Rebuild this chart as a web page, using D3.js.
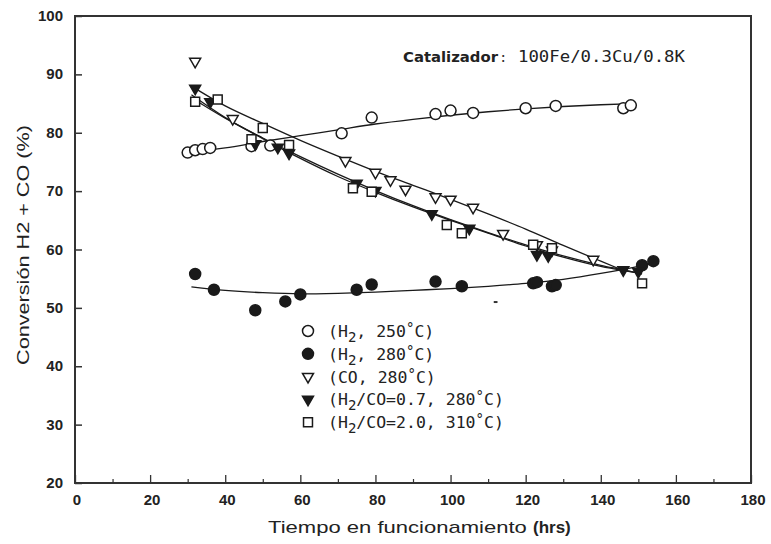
<!DOCTYPE html>
<html><head><meta charset="utf-8">
<script src="https://cdn.jsdelivr.net/npm/d3@7"></script>
<style>html,body{margin:0;padding:0;background:#fff;}svg{display:block;}</style>
</head><body>
<svg id="chart" width="771" height="544"></svg>
<script>
// ---- data ----
const xTicks = [0,20,40,60,80,100,120,140,160,180];
const yTicks = [20,30,40,50,60,70,80,90,100];

// measured points: [hours, conversion %]
const h2_250 = [[30,76.6],[32,77.0],[34,77.2],[36,77.4],[47,77.7],[52,77.8],[71,79.9],[79,82.6],[96,83.2],[100,83.8],[106,83.4],[120,84.2],[128,84.6],[146,84.2],[148,84.7]];
const h2_280 = [[32,55.8],[37,53.1],[48,49.6],[56,51.1],[60,52.3],[75,53.1],[79,54.0],[96,54.5],[103,53.7],[122,54.2],[123,54.4],[127,53.7],[128,53.9],[151,57.3],[154,58.0]];
const co_280 = [[32,92.2],[42,82.4],[72,75.2],[80,73.2],[84,71.9],[88,70.3],[96,69.0],[100,68.6],[106,67.2],[114,62.7],[123,60.8],[127,59.9],[138,58.3]];
const h2co07 = [[32,87.6],[36,85.3],[48,78.1],[54,77.5],[57,76.5],[75,71.3],[80,70.1],[95,66.1],[105,63.6],[123,59.1],[126,58.9],[146,56.5],[150,56.2]];
const h2co20 = [[32,85.3],[38,85.7],[47,78.9],[50,80.8],[57,77.9],[74,70.5],[79,69.9],[99,64.2],[103,62.8],[122,60.8],[127,60.2],[151,54.2]];

// fitted trend curves
const fit_h2_250 = [[29,76.5],[40,77.4],[50,78.5],[60,79.5],[70,80.5],[80,81.5],[90,82.3],[100,83.0],[110,83.6],[120,84.1],[130,84.5],[140,84.8],[149,85.0]];
const fit_h2_280 = [[31,53.6],[40,53.0],[50,52.6],[60,52.4],[70,52.5],[80,52.7],[90,53.0],[100,53.3],[110,53.7],[120,54.2],[130,54.9],[140,55.9],[150,57.1],[155,57.8]];
const fit_co_280 = [[31,88.0],[40,84.6],[50,81.6],[60,78.7],[70,76.0],[80,73.4],[90,71.0],[100,68.6],[110,66.1],[120,63.5],[130,60.7],[140,58.0],[146,56.4]];
const fit_h2co07 = [[31,86.5],[40,82.6],[50,79.0],[60,75.6],[70,72.5],[80,69.8],[90,67.3],[100,65.0],[110,62.8],[120,60.6],[130,58.7],[140,57.1],[146,56.4],[151,55.9]];
const fit_h2co20 = [[31,86.0],[40,82.5],[50,79.1],[60,75.9],[70,72.9],[80,70.1],[90,67.5],[100,65.1],[110,62.9],[120,60.8],[130,58.9],[140,57.3],[146,56.5],[151,55.8]];

const legendLabels = [
  [["(H",0],["2",1],[", 250",0],["°",-1],["C)",0]],
  [["(H",0],["2",1],[", 280",0],["°",-1],["C)",0]],
  [["(CO, 280",0],["°",-1],["C)",0]],
  [["(H",0],["2",1],["/CO=0.7, 280",0],["°",-1],["C)",0]],
  [["(H",0],["2",1],["/CO=2.0, 310",0],["°",-1],["C)",0]]
];

// ---- drawing ----
const svg = d3.select("#chart");
const x = d3.scaleLinear().domain([0,180]).range([75,751]);
const y = d3.scaleLinear().domain([20,100]).range([483,16]);
const ink = "#1a1a1a";

// fitted lines
const line = d3.line().x(d=>x(d[0])).y(d=>y(d[1])).curve(d3.curveMonotoneX);
[fit_h2_250, fit_h2_280, fit_co_280, fit_h2co07, fit_h2co20].forEach(f=>{
  svg.append("path").attr("d", line(f)).attr("fill","none").attr("stroke",ink).attr("stroke-width",1.3);
});

// marker definitions
const styles = [
  {sym:d3.symbolCircle, size:95, fill:"#fff", rot:0},
  {sym:d3.symbolCircle, size:95, fill:ink, rot:0},
  {sym:d3.symbolTriangle, size:52, fill:"#fff", rot:180},
  {sym:d3.symbolTriangle, size:52, fill:ink, rot:180},
  {sym:d3.symbolSquare, size:80, fill:"#fff", rot:0}
];
const series = [h2_250, h2_280, co_280, h2co07, h2co20];
function marker(g, st, cx, cy){
  g.append("path")
    .attr("d", d3.symbol().type(st.sym).size(st.size)())
    .attr("transform", `translate(${cx},${cy}) rotate(${st.rot})`)
    .attr("fill", st.fill).attr("stroke", ink).attr("stroke-width",1.5);
}
series.forEach((s,i)=>{
  const g = svg.append("g");
  s.forEach(d=>marker(g, styles[i], x(d[0]), y(d[1])));
});

// frame
svg.append("rect").attr("x",x(0)).attr("y",y(100)).attr("width",x(180)-x(0)).attr("height",y(20)-y(100))
  .attr("fill","none").attr("stroke","#333").attr("stroke-width",2);

// y axis ticks (inward)
const yAxis = d3.axisRight(y).tickValues(yTicks).tickSize(7).tickFormat("");
const gy = svg.append("g").attr("transform",`translate(${x(0)},0)`).call(yAxis);
gy.select(".domain").remove();
gy.selectAll("line").attr("stroke","#333").attr("stroke-width",1.5);
svg.append("g").selectAll("text").data(yTicks).join("text")
  .attr("x",63).attr("y",d=>y(d)+5).attr("text-anchor","end")
  .attr("font-family","Liberation Sans, Arial, sans-serif").attr("font-weight","bold")
  .attr("font-size",15).attr("fill","#222").text(d=>d);

// x axis ticks (inward): major every 20, minor every 10
const xMinor = d3.range(10,180,20);
const gx = svg.append("g").attr("transform",`translate(0,${y(20)})`)
  .call(d3.axisTop(x).tickValues(xTicks).tickSize(8).tickFormat(""));
gx.select(".domain").remove();
gx.selectAll("line").attr("stroke","#333").attr("stroke-width",1.3);
const gx2 = svg.append("g").attr("transform",`translate(0,${y(20)})`)
  .call(d3.axisTop(x).tickValues(xMinor).tickSize(4).tickFormat(""));
gx2.select(".domain").remove();
gx2.selectAll("line").attr("stroke","#333").attr("stroke-width",1.2);
svg.append("g").selectAll("text").data(xTicks).join("text")
  .attr("x",d=>x(d)+2).attr("y",505).attr("text-anchor","middle")
  .attr("font-family","Liberation Sans, Arial, sans-serif").attr("font-weight","bold")
  .attr("font-size",15).attr("fill","#222").text(d=>d);

// axis titles
svg.append("text").attr("transform","translate(29,245) rotate(-90)").attr("text-anchor","middle")
  .attr("font-family","Liberation Sans, Arial, sans-serif").attr("font-size",16.5).attr("fill","#222")
  .attr("textLength",240).attr("lengthAdjust","spacingAndGlyphs").text("Conversión H2 + CO (%)");
const xt = svg.append("text").attr("x",268).attr("y",533)
  .attr("font-family","Liberation Sans, Arial, sans-serif").attr("font-size",17).attr("fill","#222");
xt.append("tspan").attr("textLength",265).attr("lengthAdjust","spacingAndGlyphs").text("Tiempo en funcionamiento ");
xt.append("tspan").attr("font-weight","bold").text("(hrs)");

// annotation
svg.append("text").attr("x",403).attr("y",62)
  .attr("font-family","DejaVu Sans, sans-serif").attr("font-weight","bold").attr("font-size",14).attr("fill","#222")
  .attr("textLength",95).attr("lengthAdjust","spacingAndGlyphs").text("Catalizador");
svg.append("text").attr("x",499).attr("y",62)
  .attr("font-family","DejaVu Sans Mono, monospace").attr("font-size",14).attr("fill","#333").text(":");
svg.append("text").attr("x",518).attr("y",62)
  .attr("font-family","DejaVu Sans Mono, monospace").attr("font-size",15).attr("fill","#222")
  .attr("textLength",167).attr("lengthAdjust","spacingAndGlyphs").text("100Fe/0.3Cu/0.8K");

// legend
const lg = svg.append("g");
legendLabels.forEach((parts,i)=>{
  const by = 337 + i*22.8;
  marker(lg, styles[i], 308, by-6);
  const t = lg.append("text").attr("x",328).attr("y",by)
    .attr("font-family","DejaVu Sans Mono, monospace").attr("font-size",16.5).attr("fill","#222");
  let cur = 0;
  parts.forEach(([s,shift])=>{
    const target = shift===1 ? 5 : (shift===-1 ? -4 : 0);
    const sp = t.append("tspan").attr("dy", target-cur).text(s);
    if(shift!==0) sp.attr("font-size",14);
    cur = target;
  });
});
// small stray mark in the original scan
svg.append("line").attr("x1",x(111.5)).attr("x2",x(112.5)).attr("y1",y(51)).attr("y2",y(51)).attr("stroke","#333").attr("stroke-width",2);
</script>
</body></html>
